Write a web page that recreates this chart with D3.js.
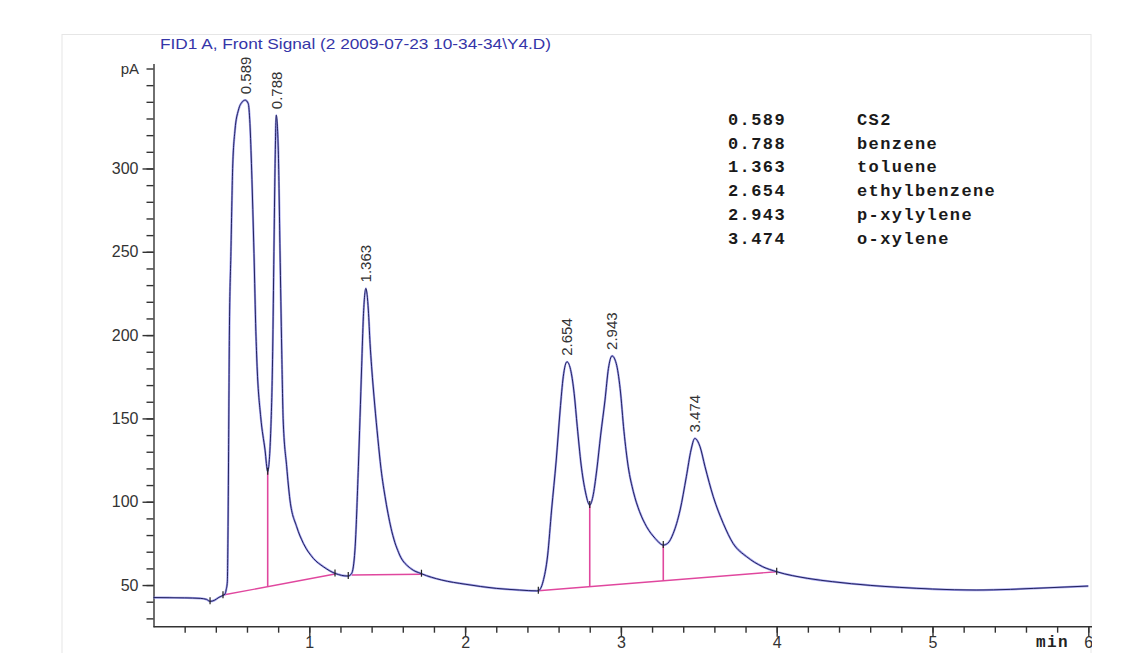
<!DOCTYPE html>
<html>
<head>
<meta charset="utf-8">
<script src="https://cdn.jsdelivr.net/npm/d3@7"></script>
<style>
body { margin: 0; background: #fff; }
svg { display: block; }
</style>
</head>
<body>
<svg width="1140" height="653"></svg>
<script>
// FID signal: time (min) and signal (pA)
var signalTime = [0, 0.10, 0.20, 0.30, 0.34, 0.363, 0.39, 0.42, 0.446, 0.459, 0.466, 0.474, 0.478, 0.482, 0.487, 0.497, 0.508, 0.523, 0.545, 0.57, 0.589, 0.608, 0.619, 0.63, 0.645, 0.657, 0.665, 0.688, 0.716, 0.733,
    0.752, 0.765, 0.773, 0.780, 0.788, 0.801, 0.812, 0.823, 0.832, 0.855, 0.876, 0.919, 0.962, 1.026, 1.09, 1.165, 1.25,
    1.272, 1.293, 1.315, 1.336, 1.347, 1.363, 1.379, 1.39, 1.40, 1.42, 1.44, 1.46, 1.49, 1.53, 1.58, 1.65, 1.72, 1.85, 2.0, 2.2, 2.35, 2.46,
    2.47, 2.50, 2.53, 2.555, 2.585, 2.61, 2.63, 2.654, 2.68, 2.70, 2.72, 2.745, 2.77, 2.80,
    2.82, 2.845, 2.87, 2.898, 2.92, 2.943, 2.97, 2.995, 3.02, 3.047, 3.08, 3.12, 3.165, 3.22, 3.272,
    3.30, 3.336, 3.38, 3.42, 3.45, 3.474, 3.508, 3.54, 3.593, 3.657, 3.72, 3.807, 3.91, 4.0,
    4.2, 4.36, 4.6, 4.79, 5.0, 5.28, 5.5, 5.65, 5.85, 6.0];
var signalPA = [42.5, 42.4, 42.3, 42.0, 41.4, 40.2, 40.8, 42.6, 43.8, 44.6, 47, 52, 80, 130, 200, 250, 300, 323, 335, 340, 341, 339, 327, 299, 249, 202, 181, 151, 131, 118,
    141, 190, 250, 300, 332, 311, 251, 191, 150, 121, 101, 85, 75, 66, 61, 57, 55.4,
    57, 71, 121, 181, 211, 228, 215, 195, 181, 158, 138, 120, 101, 82, 68, 60, 56.8, 53, 50.5, 48, 47, 46.5,
    46.6, 52, 68, 95, 125, 155, 175, 184, 178, 165, 145, 122, 107, 98,
    103, 119, 140, 161, 180, 187.5, 183, 168, 142, 121, 106, 94, 85, 78, 74,
    75, 81, 95, 115, 131, 138, 133, 121, 103, 87, 75, 67, 61, 58,
    54, 52, 49.8, 48.6, 47.6, 47, 47.4, 48, 48.8, 49.4];

// peaks: retention time and apex height
var peakTimes = [0.589, 0.788, 1.363, 2.654, 2.943, 3.474];
var peakHeights = [341, 332, 228, 184, 187.5, 138];
var peakLabels = ["0.589", "0.788", "1.363", "2.654", "2.943", "3.474"];

// legend table
var legendTimes = ["0.589", "0.788", "1.363", "2.654", "2.943", "3.474"];
var legendNames = ["CS2", "benzene", "toluene", "ethylbenzene", "p-xylylene", "o-xylene"];

// integration baselines [t0, v0, t1, v1] and drop lines [t, vBottom, vTop]
var baselines = [[0.446, 44, 1.165, 56.6], [1.272, 56, 1.72, 56.5], [2.47, 46.6, 4.0, 58]];
var dropLines = [[0.733, 49.2, 118], [2.80, 49.1, 98], [3.272, 52.6, 74]];
// start/end tick marks on the trace
var markTimes = [0.363, 0.446, 0.733, 1.165, 1.25, 1.72, 2.47, 2.80, 3.272, 4.0];
var markValues = [40.2, 43.8, 118, 57, 55.4, 56.8, 46.6, 98, 74, 58];

// axes
var xTickValues = [1, 2, 3, 4, 5, 6];
var xMinorTicks = d3.range(1, 31).map(function(i) { return i / 5; });
var yTickValues = [50, 100, 150, 200, 250, 300];
var yMinorTicks = d3.range(30, 361, 10);
var yUnitTick = 360;

var title = "FID1 A, Front Signal (2 2009-07-23 10-34-34\\Y4.D)";

var svg = d3.select("svg").style("background", "#fff");

var x = d3.scaleLinear().domain([0, 6]).range([153.5, 1088.3]),
    y = d3.scaleLinear().domain([25, 363]).range([626.7, 63.5]);

svg.append("defs").append("clipPath").attr("id", "cut")
    .append("rect").attr("x", 0).attr("y", 0).attr("width", 1092).attr("height", 653);

// faint screenshot frame
svg.append("rect")
    .attr("x", 62).attr("y", 34.5).attr("width", 1029).attr("height", 640)
    .attr("fill", "none").attr("stroke", "#e6e6e6");

var g = svg.append("g").attr("clip-path", "url(#cut)");

// title
g.append("text")
    .attr("x", 160).attr("y", 48.5)
    .attr("font-family", "Liberation Sans, Arial, sans-serif")
    .attr("font-size", 15)
    .attr("fill", "#3535a8")
    .attr("textLength", 391).attr("lengthAdjust", "spacingAndGlyphs")
    .text(title);

// y axis, minor then major
g.append("g")
    .attr("transform", "translate(" + x(0) + ",0)")
    .call(d3.axisLeft(y).tickValues(yMinorTicks).tickSize(7).tickSizeOuter(0).tickFormat(""))
    .call(function(a) { a.selectAll("line, path").attr("stroke", "#333").attr("stroke-width", 1.4); });

g.append("g")
    .attr("transform", "translate(" + x(0) + ",0)")
    .call(d3.axisLeft(y).tickValues(yTickValues).tickSize(11).tickSizeOuter(0).tickPadding(4))
    .call(function(a) {
        a.select(".domain").remove();
        a.selectAll("line").attr("stroke", "#333").attr("stroke-width", 1.4);
        a.selectAll("text").attr("font-family", "Liberation Sans, Arial, sans-serif")
            .attr("font-size", 16).attr("fill", "#333");
    });

g.append("text")
    .attr("x", 139).attr("y", y(yUnitTick)).attr("dy", "0.35em")
    .attr("text-anchor", "end")
    .attr("font-family", "Liberation Sans, Arial, sans-serif")
    .attr("font-size", 15).attr("fill", "#333")
    .text("pA");

// x axis, minor then major
g.append("g")
    .attr("transform", "translate(0," + y(25) + ")")
    .call(d3.axisBottom(x).tickValues(xMinorTicks).tickSize(6).tickSizeOuter(0).tickFormat(""))
    .call(function(a) {
        a.select(".domain").attr("d", "M" + x(0) + ",0H1092");
        a.selectAll("line, path").attr("stroke", "#333").attr("stroke-width", 1.4);
    });

g.append("g")
    .attr("transform", "translate(0," + y(25) + ")")
    .call(d3.axisBottom(x).tickValues(xTickValues).tickSize(10).tickSizeOuter(0).tickPadding(0)
        .tickFormat(d3.format("d")))
    .call(function(a) {
        a.select(".domain").remove();
        a.selectAll("line").attr("stroke", "#333").attr("stroke-width", 1.4);
        a.selectAll("text").attr("font-family", "Liberation Sans, Arial, sans-serif")
            .attr("font-size", 16).attr("fill", "#333");
    });

g.append("text")
    .attr("x", 1036).attr("y", 647)
    .attr("font-family", "Liberation Mono, Courier New, monospace")
    .attr("font-weight", "bold").attr("font-size", 16).attr("letter-spacing", 1.4)
    .attr("fill", "#222")
    .text("min");

// integration baselines
g.selectAll(".base")
    .data(baselines)
    .enter().append("line")
    .attr("x1", function(d) { return x(d[0]); })
    .attr("y1", function(d) { return y(d[1]); })
    .attr("x2", function(d) { return x(d[2]); })
    .attr("y2", function(d) { return y(d[3]); })
    .attr("stroke", "#e0479e").attr("stroke-width", 1.4);

g.selectAll(".drop")
    .data(dropLines)
    .enter().append("line")
    .attr("x1", function(d) { return x(d[0]); })
    .attr("x2", function(d) { return x(d[0]); })
    .attr("y1", function(d) { return y(d[1]); })
    .attr("y2", function(d) { return y(d[2]); })
    .attr("stroke", "#e0479e").attr("stroke-width", 1.6);

// signal trace
var pts = signalTime.map(function(t, i) { return [t, signalPA[i]]; });
var line = d3.line()
    .x(function(d) { return x(d[0]); })
    .y(function(d) { return y(d[1]); })
    .curve(d3.curveMonotoneX);

g.append("path").datum(pts)
    .attr("d", line).attr("fill", "none")
    .attr("stroke", "#7a7ae6").attr("stroke-width", 2.2).attr("stroke-opacity", 0.7);
g.append("path").datum(pts)
    .attr("d", line).attr("fill", "none")
    .attr("stroke", "#22225e").attr("stroke-width", 1);

// small start/end marks
g.selectAll(".mark")
    .data(markTimes)
    .enter().append("line")
    .attr("x1", function(d) { return x(d); })
    .attr("x2", function(d) { return x(d); })
    .attr("y1", function(d, i) { return y(markValues[i]) - 4; })
    .attr("y2", function(d, i) { return y(markValues[i]) + 3; })
    .attr("stroke", "#222").attr("stroke-width", 1.2);

// rotated retention time labels above each apex
g.selectAll(".plab")
    .data(peakTimes)
    .enter().append("text")
    .attr("transform", function(d, i) {
        return "translate(" + x(d) + "," + (y(peakHeights[i]) - 6) + ") rotate(-90)";
    })
    .attr("dy", "0.36em")
    .attr("font-family", "Liberation Sans, Arial, sans-serif")
    .attr("font-size", 15).attr("fill", "#333")
    .text(function(d, i) { return peakLabels[i]; });

// compound table
var legend = g.append("g")
    .attr("font-family", "Liberation Mono, Courier New, monospace")
    .attr("font-weight", "bold").attr("font-size", 17).attr("letter-spacing", 1.4)
    .attr("fill", "#1a1a1a")
    .selectAll("g")
    .data(legendTimes)
    .enter().append("g")
    .attr("transform", function(d, i) { return "translate(0," + (125 + i * 23.7) + ")"; });

legend.append("text").attr("x", 728).text(function(d) { return d; });
legend.append("text").attr("x", 857).text(function(d, i) { return legendNames[i]; });
</script>
</body>
</html>
